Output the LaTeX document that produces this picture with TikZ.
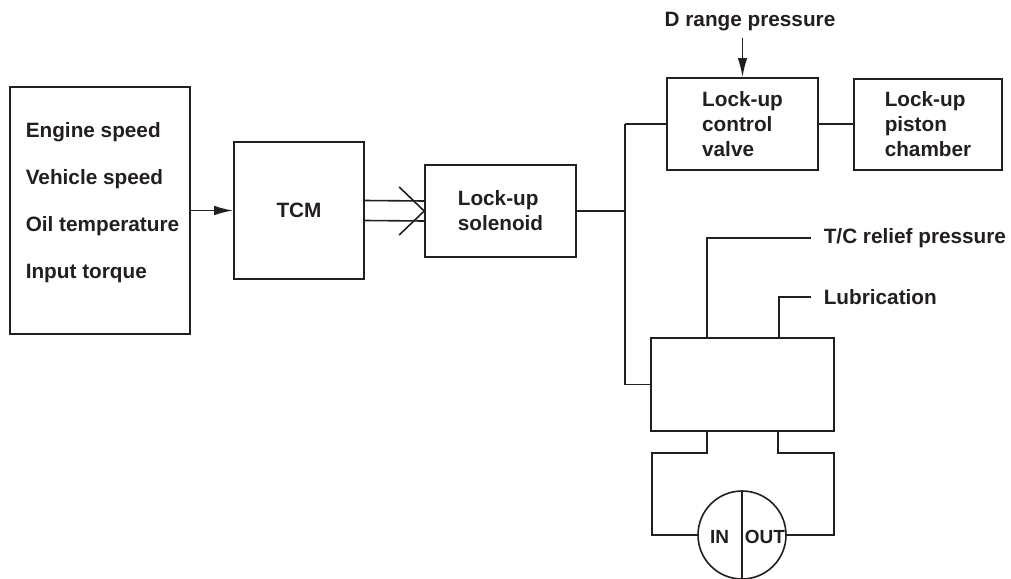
\documentclass[tikz,border=0pt]{standalone}
\usepackage{fontspec}
\setmainfont{Liberation Sans}
\usetikzlibrary{arrows.meta,calc}
\definecolor{ink}{RGB}{35,31,32}
\begin{document}
\begin{tikzpicture}[x=1pt,y=-1pt,
  line width=1.6pt, draw=ink,
  every node/.style={text=ink},
  txt/.style={font=\fontsize{20.75}{25}\selectfont\bfseries},
  blk/.style={draw=ink, line width=1.6pt, rectangle, inner sep=0pt, txt, align=left},
  arr/.style={-{Latex[length=19pt,width=9.5pt]}}]
\useasboundingbox (0,0) rectangle (1011,578);
% boxes
\node[blk, minimum width=180, minimum height=247] (inbox) at (100,210.5) {};
\node[txt, align=left, anchor=west, inner sep=0pt,
  font=\fontsize{20.75}{47}\selectfont\bfseries] (inlist) at (25,203)
  {Engine speed\\Vehicle speed\\Oil temperature\\Input torque};
\node[blk, minimum width=130, minimum height=137] (tcm) at (299,210.5) {TCM};
\node[blk, minimum width=151, minimum height=92] (sol) at (500.5,211) {Lock-up\\solenoid};
\node[blk, minimum width=151, minimum height=92] (valve) at (742.5,124) {Lock-up\\control\\valve};
\node[blk, minimum width=148, minimum height=91] (chamber) at (928,124.5) {Lock-up\\piston\\chamber};
\node[blk, minimum width=183, minimum height=93] (conv) at (742.5,384.5) {};
\node[draw=ink, line width=1.6pt, circle, minimum size=88, inner sep=0pt] (pump) at (742,535) {};
% labels
\node[txt] (drange) at (750,22) {D range pressure};
\node[txt, anchor=west, inner xsep=12pt, inner ysep=0pt] (tc) at (811,238) {T/C relief pressure};
\node[txt, anchor=west, inner xsep=12pt, inner ysep=0pt] (lub) at (811,297) {Lubrication};
\node[inner sep=0pt, font=\fontsize{19}{22}\selectfont\bfseries] (in) at (719.5,537) {IN};
\node[inner sep=0pt, font=\fontsize{19}{22}\selectfont\bfseries] (out) at (765,537) {OUT};
% coordinates
\coordinate (j1) at (625,124);
\coordinate (j2) at (625,211);
\coordinate (j3) at (625,384.5);
\coordinate (t1) at (707,338);
\coordinate (t2) at (779,338);
\coordinate (b1) at (707,431);
\coordinate (b2) at (778,431);
% connectors
\draw[arr] (inbox.east |- tcm.west) -- (tcm.west);
\draw ($(tcm.east)+(0,-10)$) -- ($(sol.west)+(0,-10)$);
\draw ($(tcm.east)+(0,10)$) -- ($(sol.west)+(0,10)$);
\draw ($(sol.west)+(-25,-24)$) -- (sol.west) -- ($(sol.west)+(-25,24)$);
\draw (sol.east) -- (j2);
\draw (j1) -- (j3);
\draw (j1) -- (valve.west);
\draw (j3) -- (conv.west);
\draw (valve.east) -- (chamber.west |- valve.east);
\draw[arr] (valve.north |- drange.south) ++(0,3) -- (valve.north);
\draw (t1) |- (tc.west);
\draw (t2) |- (lub.west);
\draw (b1) -- ++(0,22) -| (652,535) -- (pump.west);
\draw (b2) -- ++(0,22) -| (834,535) -- (pump.east);
\draw (pump.north) -- (pump.south);
\end{tikzpicture}
\end{document}
